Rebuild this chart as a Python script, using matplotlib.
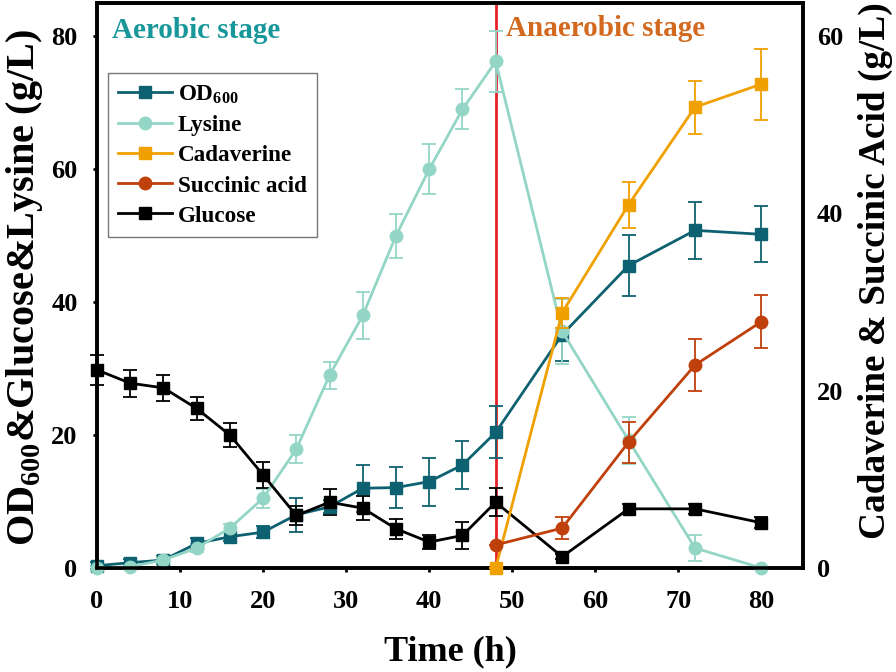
import numpy as np
import matplotlib
matplotlib.use("Agg")
import matplotlib.pyplot as plt
from matplotlib.lines import Line2D

plt.rcParams['font.family'] = ['Liberation Serif', 'DejaVu Serif']
plt.rcParams['font.weight'] = 'bold'
plt.rcParams['mathtext.fontset'] = 'custom'
plt.rcParams['mathtext.rm'] = 'Liberation Serif:bold'
plt.rcParams['mathtext.bf'] = 'Liberation Serif:bold'

# left axis series (g/L or OD)
t_all = [0, 4, 8, 12, 16, 20, 24, 28, 32, 36, 40, 44, 48, 56, 64, 72, 80]
od600 = [0.35, 0.8, 1.2, 3.7, 4.7, 5.4, 8.0, 9.2, 12.0, 12.1, 13.0, 15.5, 20.4, 35.1, 45.5, 50.8, 50.2]
od600_err = [0.5, 0.5, 0.6, 0.8, 0.7, 0.9, 2.6, 1.0, 3.5, 3.1, 3.6, 3.6, 3.9, 4.0, 4.6, 4.3, 4.2]
lysine = [0.0, 0.2, 1.2, 3.0, 6.0, 10.5, 17.9, 29.0, 38.0, 50.0, 60.0, 69.0, 76.2, 35.6, 19.2, 3.0, 0.0]
lysine_err = [0.3, 0.3, 0.5, 0.6, 0.6, 1.4, 2.1, 2.0, 3.5, 3.3, 3.8, 3.0, 4.6, 4.9, 3.5, 2.0, 0.2]
glucose = [29.8, 27.8, 27.1, 24.0, 20.0, 14.0, 7.9, 9.9, 9.0, 5.9, 3.9, 4.9, 9.9, 1.7, 8.9, 8.9, 6.8]
glucose_err = [2.2, 2.0, 2.0, 1.8, 1.75, 2.0, 1.5, 2.0, 1.8, 1.5, 1.0, 2.0, 2.1, 0.4, 0.8, 0.8, 0.8]

# right axis series
t_ana = [48, 56, 64, 72, 80]
cadaverine = [0.0, 28.8, 41.0, 52.0, 54.6]
cadaverine_err = [0.0, 1.7, 2.6, 3.0, 4.0]
succinic = [2.6, 4.5, 14.2, 22.9, 27.8]
succinic_err = [0.0, 1.2, 2.3, 2.9, 3.0]

c_od = '#0e6170'
c_lys = '#94d6c6'
c_cad = '#f0a000'
c_suc = '#c0400c'
c_glu = '#000000'

fig = plt.figure(figsize=(8.96, 6.72), dpi=100)
ax = fig.add_axes([97/896, 104/672, 706/896, 565/672])
ax2 = ax.twinx()

ax.axvline(48, color='#e8202a', lw=2, zorder=1)

def series(a, x, y, e, c, m):
    a.errorbar(x, y, yerr=e, color=c, marker=m, ms=9, lw=2, elinewidth=1.3,
               capsize=5, capthick=1.3, clip_on=False, zorder=3)
    return Line2D([], [], color=c, marker=m, ms=9, lw=2)

h_od = series(ax, t_all, od600, od600_err, c_od, 's')
h_lys = series(ax, t_all, lysine, lysine_err, c_lys, 'o')
h_cad = series(ax2, t_ana, cadaverine, cadaverine_err, c_cad, 's')
h_suc = series(ax2, t_ana, succinic, succinic_err, c_suc, 'o')
h_glu = series(ax, t_all, glucose, glucose_err, c_glu, 's')

ax.set_xlim(0, 85)
ax.set_ylim(0, 85)
ax2.set_ylim(0, 85 * 0.75)
ax.set_xticks([0, 10, 20, 30, 40, 50, 60, 70, 80])
ax.set_yticks([0, 20, 40, 60, 80])
ax2.set_yticks([0, 20, 40, 60])

for a in (ax, ax2):
    for s in a.spines.values():
        s.set_linewidth(2.6)
ax.tick_params(axis='y', labelsize=19, width=2, length=3, pad=11)
ax.tick_params(axis='x', labelsize=19, width=2, length=3, pad=13)
ax2.tick_params(labelsize=19, length=0, pad=10)

ax.set_xlabel('Time (h)', fontsize=26, fontweight='bold')
ax.xaxis.set_label_coords(0.5, -0.12)
ax.set_ylabel(r'OD$_{\mathregular{600}}$&Glucose&Lysine (g/L)', fontsize=29, fontweight='bold')
ax.yaxis.set_label_coords(-0.074, 0.496)
ax2.set_ylabel('Cadaverine & Succinic Acid (g/L)', fontsize=26.8, fontweight='bold', rotation=90)
ax2.yaxis.set_label_coords(1.078, 0.527)

ax.text(1.8, 80.9, 'Aerobic stage', color='#17979a', fontsize=21, fontweight='bold', va='center')
ax.text(49.3, 81.2, 'Anaerobic stage', color='#d2691e', fontsize=21, fontweight='bold', va='center')

handles = [h_od, h_lys, h_cad, h_suc, h_glu]
labels = [r'OD$_{\mathregular{600}}$', 'Lysine', 'Cadaverine', 'Succinic acid', 'Glucose']
leg = ax2.legend(handles, labels, loc='upper left', bbox_to_anchor=(0.0156, 0.876),
                 borderaxespad=0, fontsize=16.7, fancybox=False, edgecolor='#555555',
                 handlelength=2.3, labelspacing=0.38, handletextpad=0.25, borderpad=0.45)
leg.get_frame().set_linewidth(1)

fig.savefig('out.png', dpi=100)
